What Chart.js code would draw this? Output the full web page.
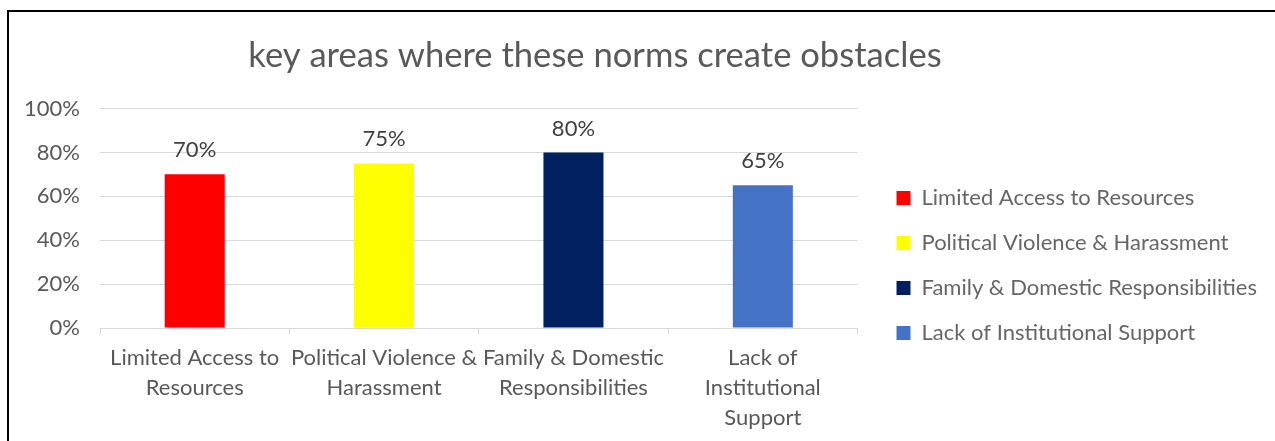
<!DOCTYPE html>
<html>
<head>
<meta charset="utf-8">
<script src="https://cdn.jsdelivr.net/npm/chart.js@4.4.1/dist/chart.umd.min.js"></script>
<style>
  html, body { margin: 0; padding: 0; background: #ffffff; overflow: hidden; }
  #frame { position: absolute; left: 7px; top: 10px; width: 1300px; height: 460px;
           border-left: 2px solid #000; border-top: 2px solid #000; background: #fff; }
  #c { position: absolute; left: 0; top: 0; }
</style>
</head>
<body>
<div id="frame"><canvas id="c" width="1266" height="429"></canvas></div>
<script>
const chartTitle = "key areas where these norms create obstacles";
const categories = [
  "Limited Access to Resources",
  "Political Violence & Harassment",
  "Family & Domestic Responsibilities",
  "Lack of Institutional Support"
];
const tickLabels = [
  ["Limited Access to", "Resources"],
  ["Political Violence &", "Harassment"],
  ["Family & Domestic", "Responsibilities"],
  ["Lack of", "Institutional", "Support"]
];
const values = [70, 75, 80, 65];
const barColors = ["#FF0000", "#FFFF00", "#002060", "#4472C4"];
const yTicks = [0, 20, 40, 60, 80, 100];

const FONT = "Lato, 'Open Sans', sans-serif";
const TEXT = "#595959";

const valueLabels = {
  id: "valueLabels",
  afterDatasetsDraw(chart) {
    const ctx = chart.ctx;
    const meta = chart.getDatasetMeta(0);
    ctx.save();
    ctx.font = "22px " + FONT;
    ctx.fillStyle = "#404040";
    ctx.textAlign = "center";
    ctx.textBaseline = "middle";
    meta.data.forEach((bar, i) => {
      ctx.fillText(values[i] + "%", bar.x, bar.y - 24);
    });
    ctx.restore();
  }
};

const titleShift = {
  id: "titleShift",
  afterLayout(chart) {
    const t = chart.titleBlock;
    if (t) { t.left = 0; t.right = 1172; }
  }
};

function draw() {
  new Chart(document.getElementById("c"), {
    type: "bar",
    data: {
      labels: tickLabels,
      datasets: [{
        data: values,
        backgroundColor: barColors,
        borderWidth: 0,
        barPercentage: 0.317,
        categoryPercentage: 1.0
      }]
    },
    plugins: [valueLabels, titleShift],
    options: {
      responsive: false,
      animation: false,
      layout: { padding: { left: 0, right: 8, top: 0, bottom: 0 } },
      plugins: {
        title: {
          display: true,
          text: chartTitle,
          color: TEXT,
          font: { family: FONT, size: 34.6, weight: "normal" },
          padding: { top: 23, bottom: 32 }
        },
        legend: {
          display: true,
          position: "right",
          maxWidth: 420,
          title: {
            display: true,
            text: " ",
            font: { family: FONT, size: 10 },
            padding: { top: 33, bottom: 33 }
          },
          labels: {
            boxWidth: 14,
            boxHeight: 14,
            padding: 23,
            color: TEXT,
            font: { family: FONT, size: 22 },
            generateLabels() {
              return categories.map((name, i) => ({
                text: name,
                fillStyle: barColors[i],
                strokeStyle: barColors[i],
                lineWidth: 0,
                hidden: false,
                index: i
              }));
            }
          }
        },
        tooltip: { enabled: false }
      },
      scales: {
        x: {
          afterFit(scale) { scale.height = 113; },
          grid: {
            display: true,
            offset: true,
            drawOnChartArea: false,
            drawTicks: true,
            tickLength: 6,
            color: "#D9D9D9",
            lineWidth: 1
          },
          border: { display: true, color: "#D9D9D9", width: 1 },
          ticks: {
            color: TEXT,
            font: { family: FONT, size: 22, lineHeight: 1.36 },
            padding: 9,
            maxRotation: 0,
            autoSkip: false
          }
        },
        y: {
          min: 0,
          max: 100,
          afterBuildTicks(scale) { scale.ticks = yTicks.map(v => ({ value: v })); },
          afterFit(scale) { scale.width = 91; },
          grid: { color: "#D9D9D9", lineWidth: 1, drawTicks: false },
          border: { display: false },
          ticks: {
            color: TEXT,
            font: { family: FONT, size: 22 },
            padding: 20,
            callback: (v) => v + "%"
          }
        },
        gap: {
          type: "linear",
          position: "right",
          display: true,
          afterFit(scale) { scale.width = 16; },
          grid: { display: false, drawTicks: false },
          border: { display: false },
          ticks: { display: false }
        }
      }
    }
  });
}

Promise.all([
  document.fonts.load("22px Lato"),
  document.fonts.load("35px Lato")
]).then(draw, draw);
</script>
</body>
</html>
